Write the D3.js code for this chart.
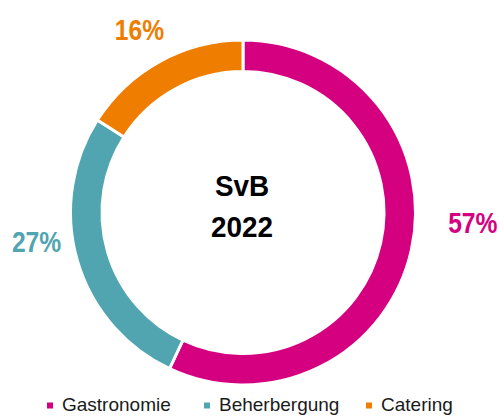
<!DOCTYPE html>
<html>
<head>
<meta charset="utf-8">
<script src="https://cdn.jsdelivr.net/npm/d3@7"></script>
<style>
  body { margin: 0; background: #fff; }
  svg { display: block; }
  .pct { font-family: "Liberation Sans", Arial, sans-serif; font-weight: bold; font-size: 29px; }
  .center { font-family: "Liberation Sans", Arial, sans-serif; font-weight: bold; font-size: 30px; fill: #000; }
  .legend text { font-family: "Liberation Sans", Arial, sans-serif; font-size: 19px; fill: #1a1a1a; }
</style>
</head>
<body>
<div id="chart"></div>
<script>
// Data
var categories = ["Gastronomie", "Beherbergung", "Catering"],
    shares = [57, 27, 16],
    colors = ["#D5007F", "#50A5B1", "#EF7D00"],
    centerLines = ["SvB", "2022"];

// Chart dimensions
var width = 500,
    height = 417,
    cx = 243,
    cy = 212.5,
    outerR = 172.5,
    innerR = 141,
    labelR = 215;

// label nudges away from the mid-angle (Excel places them by hand)
var labelNudge = [[20, -37], [0, -31], [0, 5]];

var svg = d3.select("#chart").append("svg")
    .attr("width", width)
    .attr("height", height);

var g = svg.append("g")
    .attr("transform", "translate(" + cx + "," + cy + ")");

var pie = d3.pie().sort(null).value(function(d) { return d; });
var arcs = pie(shares);

var arc = d3.arc().innerRadius(innerR).outerRadius(outerR);
var labelArc = d3.arc().innerRadius(labelR).outerRadius(labelR);

// slices
g.selectAll(".slice")
    .data(arcs)
    .enter().append("path")
    .attr("class", "slice")
    .attr("d", arc)
    .style("fill", function(d, i) { return colors[i]; })
    .style("stroke", "#fff")
    .style("stroke-width", 3);

// percentage labels (condensed like the original narrow font)
g.selectAll(".pct")
    .data(arcs)
    .enter().append("text")
    .attr("class", "pct")
    .attr("text-anchor", "middle")
    .attr("dy", "0.36em")
    .attr("transform", function(d, i) {
        var c = labelArc.centroid(d);
        return "translate(" + (c[0] + labelNudge[i][0]) + "," + (c[1] + labelNudge[i][1]) + ") scale(0.85,1)";
    })
    .style("fill", function(d, i) { return colors[i]; })
    .text(function(d) { return d.data + "%"; });

// center title
g.selectAll(".center")
    .data(centerLines)
    .enter().append("text")
    .attr("class", "center")
    .attr("text-anchor", "middle")
    .attr("transform", function(d, i) { return "translate(-1," + (-16.5 + i * 40.5) + ") scale(0.93,1)"; })
    .text(function(d) { return d; });

// legend
var legend = svg.append("g")
    .attr("class", "legend")
    .attr("transform", "translate(0,410.5)");

var legendX = [47, 204, 366];

var item = legend.selectAll("g")
    .data(categories)
    .enter().append("g")
    .attr("transform", function(d, i) { return "translate(" + legendX[i] + ",0)"; });

item.append("rect")
    .attr("x", 0)
    .attr("y", -8)
    .attr("width", 6)
    .attr("height", 6)
    .style("fill", function(d, i) { return colors[i]; });

item.append("text")
    .attr("x", 15)
    .attr("y", 0)
    .text(function(d) { return d; });
</script>
</body>
</html>
